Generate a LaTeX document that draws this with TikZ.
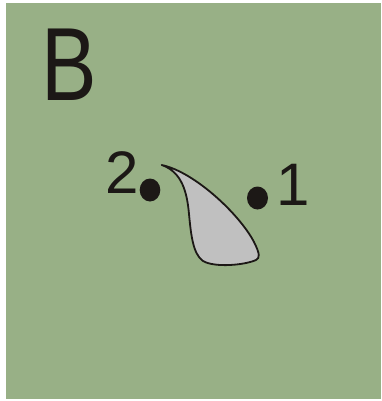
\documentclass[tikz,border=0pt]{standalone}
\usepackage{fontspec}
\setmainfont{Liberation Sans}
\definecolor{bggreen}{RGB}{152,176,134}
\definecolor{dropgray}{RGB}{192,192,192}
\definecolor{inkblack}{RGB}{28,24,22}
\begin{document}
\begin{tikzpicture}[x=1pt,y=-1pt,
  lbl/.style={inner sep=0pt,outer sep=0pt,anchor=base west,text=inkblack},
  dot/.style={fill=inkblack,draw=none}]
\useasboundingbox (0,0) rectangle (381,401);
\fill[white] (0,0) rectangle (381,401);
\fill[bggreen] (6,3) rectangle (381,399);
\node[lbl,font=\fontsize{104}{104}\selectfont,xscale=0.8] (B) at (41,100) {B};
\node[lbl,font=\fontsize{60}{60}\selectfont] (two) at (105,193) {2};
\node[lbl,font=\fontsize{60}{60}\selectfont] (one) at (276,205) {1};
\fill[dot] (150,190) ellipse [x radius=10.3, y radius=11.5] coordinate (d2);
\fill[dot] (257.5,198) ellipse [x radius=10.5, y radius=11.5] coordinate (d1);
\draw[line width=1.8pt,fill=dropgray,draw=inkblack,line join=round]
  (161.7,165) .. controls (195,172) and (240,215) .. (254,242)
  .. controls (260,254) and (260,258) .. (256,260)
  .. controls (245,265) and (215,268) .. (203,261)
  .. controls (193,254) and (191,235) .. (189,214)
  .. controls (187,192) and (182,172) .. (161.7,165) -- cycle;
\end{tikzpicture}
\end{document}
